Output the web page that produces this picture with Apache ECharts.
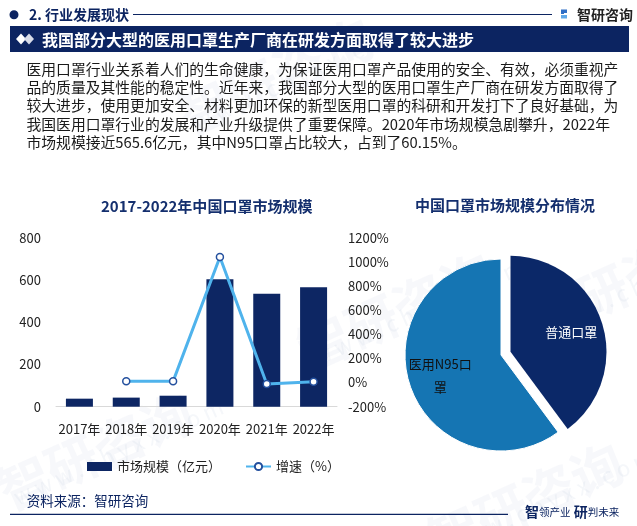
<!DOCTYPE html>
<html><head><meta charset="utf-8">
<script src="https://cdn.jsdelivr.net/npm/echarts@6/dist/echarts.min.js"></script>
<style>html,body{margin:0;padding:0;background:#fff}#c{width:637px;height:526px}</style>
</head><body><div id="c"></div>
<script>
// ---- data ----
const years = ['2017年','2018年','2019年','2020年','2021年','2022年'];
const marketSize = [38, 43, 52, 603, 535, 565.6];
const growthRate = ['-', 10, 10, 1040, -12, 5.7];
const shareNames = ['普通口罩', '医用N95口罩'];
const shareValues = [39.85, 60.15];
const paragraphLines = [
  '医用口罩行业关系着人们的生命健康，为保证医用口罩产品使用的安全、有效，必须重视产',
  '品的质量及其性能的稳定性。近年来，我国部分大型的医用口罩生产厂商在研发方面取得了',
  '较大进步，使用更加安全、材料更加环保的新型医用口罩的科研和开发打下了良好基础，为',
  '我国医用口罩行业的发展和产业升级提供了重要保障。2020年市场规模急剧攀升，2022年',
  '市场规模接近565.6亿元，其中N95口罩占比较大，占到了60.15%。'
];

const F = '"Noto Sans CJK SC","Noto Sans",sans-serif';
const NAVY = '#0c2461';
const chart = echarts.init(document.getElementById('c'));

const graphics = [];
// watermarks
const wm = [[-10, 470], [170, 95], [520, 300], [290, 330], [420, 520]];
wm.forEach(p => {
  graphics.push({type:'text', x:p[0], y:p[1], rotation:0.42, silent:true, z:-10,
    style:{text:'智研咨询', fill:'rgba(205,214,228,0.16)', font:'bold 52px ' + F}});
  graphics.push({type:'text', x:p[0] + 20, y:p[1] + 18, rotation:0.42, silent:true, z:-10,
    style:{text:'w w w . c h y x x . c o m', fill:'rgba(205,214,228,0.2)', font:'22px ' + F}});
});
// header
graphics.push({type:'circle', shape:{cx:14, cy:14.7, r:4.5}, style:{fill:NAVY}});
graphics.push({type:'text', x:29, y:14.7, style:{text:'2. 行业发展现状', fill:NAVY, font:'bold 14px ' + F, verticalAlign:'middle'}});
graphics.push({type:'line', shape:{x1:133, y1:14.5, x2:552, y2:14.5}, style:{stroke:NAVY, lineWidth:1}});
graphics.push({type:'polygon', shape:{points:[[561,9.5],[567,9.5],[567,13],[564,13],[564,14],[561,14]]}, style:{fill:'#2f6fc6'}});
graphics.push({type:'polygon', shape:{points:[[561,15],[567,15],[567,18.5],[561,18.5]]}, style:{fill:'#5fa8e8'}});
graphics.push({type:'text', x:577, y:14.5, style:{text:'智研咨询', fill:'#222', font:'bold 14px ' + F, verticalAlign:'middle'}});
// banner
graphics.push({type:'rect', shape:{x:10, y:26, width:619, height:26}, style:{fill:NAVY}});
graphics.push({type:'polygon', shape:{points:[[21,33.5],[26,39],[21,44.5],[16,39]]}, style:{fill:'#fff'}});
graphics.push({type:'polygon', shape:{points:[[29,33.5],[34,39],[29,44.5],[24,39]]}, style:{fill:'#d8dce8'}});
graphics.push({type:'text', x:42, y:39.5, style:{text:'我国部分大型的医用口罩生产厂商在研发方面取得了较大进步', fill:'#fff', font:'bold 16px ' + F, verticalAlign:'middle'}});
// paragraph
paragraphLines.forEach((t, i) => {
  graphics.push({type:'text', x:26.5, y:69 + i * 18.3, style:{text:t, fill:'#1a1a1a', font:'14.8px ' + F, verticalAlign:'middle'}});
});
// sub titles
graphics.push({type:'text', x:206.7, y:206.7, style:{text:'2017-2022年中国口罩市场规模', fill:'#142f6e', font:'bold 15px ' + F, align:'center', verticalAlign:'middle'}});
graphics.push({type:'text', x:505, y:205, style:{text:'中国口罩市场规模分布情况', fill:'#142f6e', font:'bold 15px ' + F, align:'center', verticalAlign:'middle'}});
// footer
graphics.push({type:'text', x:26.7, y:501, style:{text:'资料来源：智研咨询', fill:NAVY, font:'13.5px ' + F, verticalAlign:'middle'}});
graphics.push({type:'line', shape:{x1:10, y1:514.3, x2:508, y2:514.3}, style:{stroke:NAVY, lineWidth:1.2}});
graphics.push({type:'text', x:525, y:512, style:{text:'{a|智}{b|领产业} {a|研}{b|判未来}', verticalAlign:'middle',
  rich:{a:{fill:NAVY, font:'bold 14px ' + F}, b:{fill:NAVY, font:'10.5px ' + F}}}});

const option = {
  animation: false,
  backgroundColor: '#fff',
  textStyle: {fontFamily: F},
  graphic: graphics,
  legend: {
    left: 82, top: 455, itemWidth: 25, itemHeight: 9, itemGap: 24,
    textStyle: {fontSize: 13, color: '#222', fontFamily: F},
    data: [{name:'市场规模（亿元）', icon:'rect'}, {name:'增速（%）'}]
  },
  grid: {left: 56, right: 300, top: 237.7, height: 169, containLabel: false},
  xAxis: {
    type: 'category', data: years,
    axisLine: {lineStyle: {color: '#d9d9d9'}}, axisTick: {show: false},
    axisLabel: {color: '#222', fontSize: 13, margin: 16, interval: 0}
  },
  yAxis: [
    {type: 'value', min: 0, max: 800, interval: 200, splitLine: {show: false},
     axisLine: {show: false}, axisTick: {show: false},
     axisLabel: {color: '#222', fontSize: 13, margin: 15}},
    {type: 'value', min: -200, max: 1200, interval: 200, splitLine: {show: false},
     axisLine: {show: false}, axisTick: {show: false},
     axisLabel: {color: '#222', fontSize: 13, margin: 11, formatter: v => v + '%'}}
  ],
  series: [
    {name: '市场规模（亿元）', type: 'bar', data: marketSize, barWidth: 27,
     itemStyle: {color: '#0d2663'}},
    {name: '增速（%）', type: 'line', yAxisIndex: 1, data: growthRate,
     symbol: 'circle', symbolSize: 7, showAllSymbol: true,
     lineStyle: {color: '#4fb3ec', width: 3},
     itemStyle: {color: '#fff', borderColor: '#24509e', borderWidth: 1.5}},
    {type: 'pie', center: [501, 355], radius: 96, startAngle: 90, selectedMode: 'single', selectedOffset: 10,
     label: {show: false}, labelLine: {show: false}, emphasis: {disabled: true},
     data: [
       {name: shareNames[0], value: shareValues[0], selected: true, itemStyle: {color: '#0b2868'}},
       {name: shareNames[1], value: shareValues[1], itemStyle: {color: '#1575b3', borderColor: '#fff', borderWidth: 1}}
     ]},
    {type: 'pie', center: [501, 355], radius: [26, 96], startAngle: 90, selectedMode: 'single', selectedOffset: 10,
     silent: true, emphasis: {disabled: true}, labelLine: {show: false},
     itemStyle: {color: 'rgba(0,0,0,0)'},
     label: {show: true, position: 'inside', fontSize: 13, fontFamily: F},
     data: [
       {name: shareNames[0], value: shareValues[0], selected: true, label: {color: '#fff', formatter: '{b}'}},
       {name: shareNames[1], value: shareValues[1], label: {color: '#111', formatter: '医用N95口\n罩', lineHeight: 23}}
     ]}
  ]
};
chart.setOption(option);
</script></body></html>
